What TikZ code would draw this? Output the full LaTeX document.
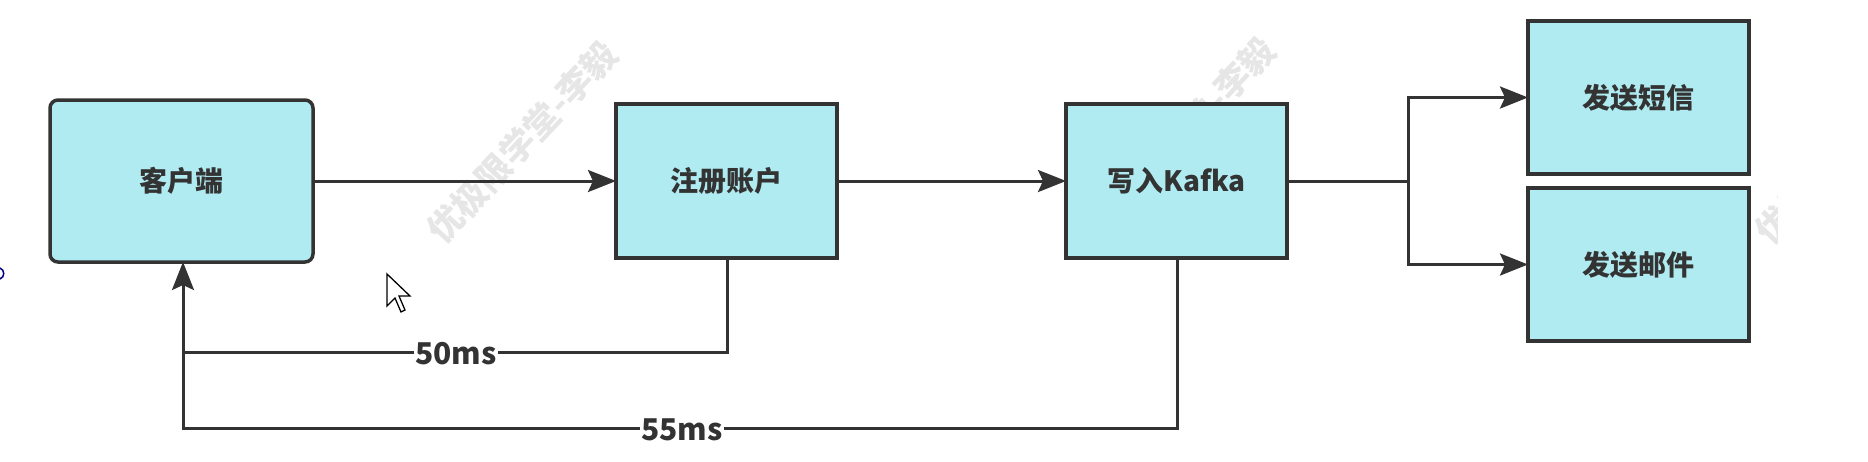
\documentclass[tikz,border=0pt]{standalone}
\usepackage{fontspec}
\newfontfamily\cjk{Noto Sans CJK SC}
\usetikzlibrary{arrows.meta}
\definecolor{boxfill}{RGB}{176,235,242}
\definecolor{ink}{RGB}{51,51,51}
\definecolor{wm}{RGB}{230,230,230}
\tikzset{
  box/.style={draw=ink, fill=boxfill, line width=3.5pt, minimum width=221pt, minimum height=154pt, inner sep=0pt, outer sep=0pt, text=ink, font=\cjk\bfseries\fontsize{28}{32}\selectfont},
  conn/.style={draw=ink, line width=3pt, -{Stealth[length=28pt,width=22pt,inset=5pt]}},
  plain/.style={draw=ink, line width=3pt},
  lbl/.style={fill=white, inner sep=1pt, text=ink, font=\cjk\bfseries\fontsize{30}{34}\selectfont},
  wmark/.style={text=wm, rotate=47, font=\cjk\bfseries\fontsize{35}{38}\selectfont, inner sep=0pt}
}
\begin{document}
\begin{tikzpicture}[x=1pt,y=-1pt]
\useasboundingbox (0,0) rectangle (1868,461);
% watermarks
\node[wmark] (wm1) at (522,142) {优极限学堂-李毅};
\node[wmark] (wm2) at (1180,138) {优极限学堂-李毅};
\begin{scope}
  \clip (1700,0) rectangle (1777,461);
  \node[wmark] (wm3) at (1850,143) {优极限学堂-李毅};
\end{scope}
% cursor
\draw[black, fill=white, line width=1.3pt, line join=miter]
  (387,274) -- ++(0,32) -- ++(8,-8) -- ++(6,14) -- ++(4,-2) -- ++(-6,-14) -- ++(11,0) -- cycle;
% left edge artifact
\draw[blue!50!black, line width=1.5pt] (0,268) .. controls (5,270) and (5,277) .. (0,279);
% boxes
\node[box, rounded corners=8pt, minimum width=263pt, minimum height=162pt] (client) at (181.5,181) {客户端};
\node[box] (reg) at (726.5,181) {注册账户};
\node[box] (kafka) at (1176.5,181) {写入Kafka};
\node[box, minimum height=153pt] (sms) at (1638.5,97.5) {发送短信};
\node[box, minimum height=153pt] (mail) at (1638.5,264.5) {发送邮件};
% forward connectors
\draw[conn] (client.east) -- (reg.west);
\draw[conn] (reg.east) -- (kafka.west);
\coordinate (split) at (1408,181);
\draw[plain] (kafka.east) -- (split);
\draw[conn] (split) |- (sms.west);
\draw[conn] (split) |- (mail.west);
% feedback connectors
\coordinate (r50) at (727,352);
\coordinate (l50) at (183,352);
\coordinate (r55) at (1177,428);
\coordinate (l55) at (183,428);
\draw[plain] (kafka.south -| r55) -- (r55) -- (l55) -- (l50);
\draw[conn] (reg.south -| r50) -- (r50) -- (l50) -- (client.south -| l50);
\node[lbl] (t50) at (456,354) {50ms};
\node[lbl] (t55) at (682,430) {55ms};
\end{tikzpicture}
\end{document}
